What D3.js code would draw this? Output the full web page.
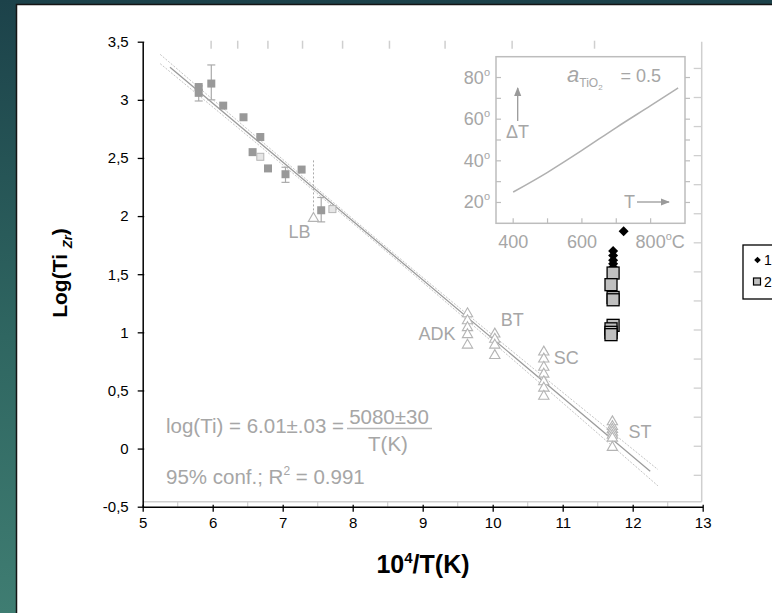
<!DOCTYPE html>
<html>
<head>
<meta charset="utf-8">
<script src="https://cdn.jsdelivr.net/npm/d3@7"></script>
<style>
  html, body { margin: 0; padding: 0; background: #fff; }
  svg { display: block; font-family: "Liberation Sans", Arial, sans-serif; }
</style>
</head>
<body>
<div id="chart"></div>
<script>
// ---- data ----
// reference calibration points (filled squares)
const refSqX = [5.80, 5.80, 5.98, 6.15, 6.44, 6.68, 6.57, 6.79, 7.04, 7.27, 7.55];
const refSqY = [3.11, 3.06, 3.14, 2.95, 2.85, 2.68, 2.55, 2.41, 2.36, 2.40, 2.05];
// open squares
const refOpenX = [6.68, 7.71];
const refOpenY = [2.51, 2.06];
// error bars
const errX = [5.80, 5.98, 7.04, 7.55];
const errLo = [2.99, 3.00, 2.29, 1.95];
const errHi = [3.12, 3.30, 2.42, 2.16];
// triangle groups
const triGroups = ["LB", "ADK", "BT", "SC", "ST"];
const triX = [7.44, 9.64, 10.03, 10.73, 11.71];
const triY = [
  [1.98],
  [1.16, 1.10, 1.04, 0.98, 0.89],
  [0.985, 0.94, 0.89, 0.80],
  [0.83, 0.77, 0.70, 0.64, 0.575, 0.52, 0.45],
  [0.23, 0.19, 0.165, 0.14, 0.115, 0.09, 0.01]
];
const lbRange = [1.98, 2.48];
// regression and 95% band
const fitIntercept = 6.01;
const fitSlope = -0.5065;
const fitRange = [5.39, 12.25];
const bandX = [5.25, 8.8, 12.36];
const bandOff = [0.04, 0.02, 0.07];
// series 1 (diamonds) and series 2 (squares)
const s1X = [11.87, 11.72, 11.72, 11.72, 11.72, 11.72];
const s1Y = [1.87, 1.70, 1.66, 1.62, 1.59, 1.56];
const s2X = [11.72, 11.69, 11.72, 11.72, 11.72, 11.69, 11.69, 11.69];
const s2Y = [1.51, 1.41, 1.30, 1.28, 1.06, 1.03, 1.00, 0.98];
// axes
const xTicks = [5, 6, 7, 8, 9, 10, 11, 12, 13];
const xMinor = [5.5, 6.5, 7.5, 8.5, 9.5, 10.5, 11.5, 12.5];
const yTicks = [-0.5, 0, 0.5, 1, 1.5, 2, 2.5, 3, 3.5];
const rightTicks = [3.27, 3.02, 2.77, 2.52, 2.27, 2.02, 1.77, 1.52, 1.27, 1.02, 0.77, 0.52, 0.27, 0.02, -0.23];
const topTempC = [1400, 1300, 1200, 1100, 1000, 900, 800, 700, 600];
// inset: delta T vs temperature
const insetT = [400, 500, 600, 700, 800, 880];
const insetDT = [25, 34.5, 45, 56, 66.5, 75];
const insetXTicks = [400, 500, 600, 700, 800];
const insetXLabels = [400, 600, 800];
const insetYTicks = [20, 30, 40, 50, 60, 70, 80];
const insetYLabels = [20, 40, 60, 80];

const width = 772, height = 613;
const gray = "#a6a6a6", lightGray = "#cfcfcf";

const svg = d3.select("#chart").append("svg")
  .attr("width", width).attr("height", height);

// background frame
const defs = svg.append("defs");
const grad = defs.append("linearGradient").attr("id", "bg")
  .attr("x1", 0).attr("y1", 0).attr("x2", 0).attr("y2", 1);
grad.append("stop").attr("offset", "0%").attr("stop-color", "#1c424a");
grad.append("stop").attr("offset", "55%").attr("stop-color", "#2f6661");
grad.append("stop").attr("offset", "100%").attr("stop-color", "#3f7d72");
svg.append("rect").attr("width", width).attr("height", height).attr("fill", "url(#bg)");
svg.append("rect").attr("x", 16.5).attr("y", 4.5).attr("width", width).attr("height", height)
  .attr("fill", "#fff").attr("stroke", "#151515").attr("stroke-width", 1.5);

const marker = defs.append("marker").attr("id", "arrow")
  .attr("viewBox", "0 0 10 10").attr("refX", 9).attr("refY", 5)
  .attr("markerWidth", 7).attr("markerHeight", 7).attr("orient", "auto");
marker.append("path").attr("d", "M0,1 L10,5 L0,9 Z").attr("fill", "#9a9a9a");

// scales
const x = d3.scaleLinear().domain([5, 13]).range([142.7, 702.7]);
const y = d3.scaleLinear().domain([-0.5, 3.5]).range([506.7, 41.7]);

// ---- original (gray) figure ----
const orig = svg.append("g");
// right frame and bottom frame line
orig.append("line").attr("x1", x(13) - 1).attr("x2", x(13) - 1)
  .attr("y1", y(3.5)).attr("y2", y(-0.5) - 5)
  .attr("stroke", lightGray).attr("stroke-width", 1.5);
orig.append("line").attr("x1", x(5)).attr("x2", x(13) - 1)
  .attr("y1", y(-0.5) - 5).attr("y2", y(-0.5) - 5)
  .attr("stroke", lightGray).attr("stroke-width", 1.5);
orig.selectAll("line.rt").data(rightTicks).enter().append("line")
  .attr("x1", x(13) - 9).attr("x2", x(13) - 1)
  .attr("y1", d => y(d)).attr("y2", d => y(d))
  .attr("stroke", lightGray).attr("stroke-width", 1.3);
orig.selectAll("line.tt").data(topTempC).enter().append("line")
  .attr("x1", d => x(1e4 / (d + 273))).attr("x2", d => x(1e4 / (d + 273)))
  .attr("y1", y(3.5) - 1).attr("y2", y(3.5) + 7)
  .attr("stroke", lightGray).attr("stroke-width", 1.5);
orig.selectAll("line.bm").data(xMinor).enter().append("line")
  .attr("x1", d => x(d)).attr("x2", d => x(d))
  .attr("y1", y(-0.5) - 5).attr("y2", y(-0.5))
  .attr("stroke", lightGray).attr("stroke-width", 1.2);

// regression line and confidence band
const fit = v => fitIntercept + fitSlope * v;
const line = d3.line().x(d => x(d[0])).y(d => y(d[1]));
const bandLine = d3.line().x(d => x(d[0])).y(d => y(d[1])).curve(d3.curveNatural);
[1, -1].forEach(sign => {
  orig.append("path")
    .attr("d", bandLine(bandX.map((v, i) => [v, fit(v) + sign * bandOff[i]])))
    .attr("fill", "none").attr("stroke", "#c4c4c4").attr("stroke-width", 1)
    .attr("stroke-dasharray", "2,1.5");
});
orig.append("path")
  .attr("d", line(fitRange.map(v => [v, fit(v)])))
  .attr("fill", "none").attr("stroke", "#9c9c9c").attr("stroke-width", 1.3);

// error bars
errX.forEach((v, i) => {
  const g = orig.append("g").attr("stroke", "#aaa").attr("stroke-width", 1.2);
  g.append("line").attr("x1", x(v)).attr("x2", x(v)).attr("y1", y(errLo[i])).attr("y2", y(errHi[i]));
  [errLo[i], errHi[i]].forEach(e => g.append("line")
    .attr("x1", x(v) - 4).attr("x2", x(v) + 4).attr("y1", y(e)).attr("y2", y(e)));
});
// LB dotted range
orig.append("line").attr("x1", x(triX[0])).attr("x2", x(triX[0]))
  .attr("y1", y(lbRange[0])).attr("y2", y(lbRange[1]))
  .attr("stroke", "#aaa").attr("stroke-width", 1).attr("stroke-dasharray", "2,2");

// squares
orig.selectAll("rect.sq").data(refSqX).enter().append("rect")
  .attr("x", (d) => x(d) - 4).attr("y", (d, i) => y(refSqY[i]) - 4)
  .attr("width", 8).attr("height", 8).attr("fill", "#999");
orig.selectAll("rect.osq").data(refOpenX).enter().append("rect")
  .attr("x", (d) => x(d) - 3.5).attr("y", (d, i) => y(refOpenY[i]) - 3.5)
  .attr("width", 7).attr("height", 7).attr("fill", "#e6e6e6")
  .attr("stroke", "#b5b5b5").attr("stroke-width", 1);

// triangles
const tri = d3.symbol(d3.symbolTriangle, 46);
triGroups.forEach((name, gi) => {
  orig.selectAll(null).data(triY[gi]).enter().append("path")
    .attr("d", tri)
    .attr("transform", d => `translate(${x(triX[gi])},${y(d)})`)
    .attr("fill", "#fff").attr("stroke", "#b4b4b4").attr("stroke-width", 1.1);
});
// group labels (offset from the triangle column's middle point)
const lblOffset = { LB: [-25, 20, "start"], ADK: [-12, 12, "end"], BT: [6, -19, "start"],
  SC: [10, -10, "start"], ST: [16, 6, "start"] };
triGroups.forEach((name, gi) => {
  const o = lblOffset[name];
  orig.append("text")
    .attr("x", x(triX[gi]) + o[0])
    .attr("y", y(triY[gi][Math.floor(triY[gi].length / 2)]) + o[1])
    .attr("text-anchor", o[2]).attr("font-size", 18).attr("fill", gray)
    .text(name);
});

// equation text
const eq = orig.append("g").attr("fill", gray).attr("font-size", 20.5);
eq.append("text").attr("x", 166).attr("y", 433).text("log(Ti) = 6.01\u00b1.03 =");
eq.append("text").attr("x", 389).attr("y", 424).attr("text-anchor", "middle").text("5080\u00b130");
eq.append("line").attr("x1", 347).attr("x2", 432).attr("y1", 428.5).attr("y2", 428.5)
  .attr("stroke", "#b8b8b8").attr("stroke-width", 1.6);
eq.append("text").attr("x", 388).attr("y", 451).attr("text-anchor", "middle").text("T(K)");
const r2 = eq.append("text").attr("x", 166).attr("y", 484);
r2.append("tspan").text("95% conf.;  R");
r2.append("tspan").attr("font-size", 12).attr("dy", -9).text("2");
r2.append("tspan").attr("dy", 9).text(" = 0.991");

// ---- inset ----
const ix = d3.scaleLinear().domain([350, 900]).range([496, 685]);
const iy = d3.scaleLinear().domain([10, 90]).range([223.3, 56.7]);
const inset = svg.append("g");
inset.append("rect").attr("x", ix(350)).attr("y", iy(90))
  .attr("width", ix(900) - ix(350)).attr("height", iy(10) - iy(90))
  .attr("fill", "#fff").attr("stroke", "#bdbdbd").attr("stroke-width", 1.5);
inset.selectAll("line.iyl").data(insetYTicks).enter().append("line")
  .attr("x1", ix(350)).attr("x2", ix(350) + 5).attr("y1", d => iy(d)).attr("y2", d => iy(d))
  .attr("stroke", "#bdbdbd").attr("stroke-width", 1.2);
inset.selectAll("line.iyr").data(insetYTicks).enter().append("line")
  .attr("x1", ix(900)).attr("x2", ix(900) + 5).attr("y1", d => iy(d)).attr("y2", d => iy(d))
  .attr("stroke", "#bdbdbd").attr("stroke-width", 1.2);
inset.selectAll("line.ixt").data(insetXTicks).enter().append("line")
  .attr("x1", d => ix(d)).attr("x2", d => ix(d)).attr("y1", iy(10)).attr("y2", iy(10) - 5)
  .attr("stroke", "#bdbdbd").attr("stroke-width", 1.2);
const ilab = inset.append("g").attr("fill", gray).attr("font-size", 18);
insetYLabels.forEach(d => {
  const t = ilab.append("text").attr("x", ix(350) - 6).attr("y", iy(d) + 6).attr("text-anchor", "end");
  t.append("tspan").text(d);
  t.append("tspan").attr("font-size", 11).attr("dy", -8).text("o");
});
insetXLabels.forEach(d => {
  ilab.append("text").attr("x", ix(d)).attr("y", 248).attr("text-anchor", "middle").text(d);
});
const degC = ilab.append("text").attr("x", ix(800) + 15).attr("y", 248);
degC.append("tspan").attr("font-size", 11).attr("dy", -8).text("o");
degC.append("tspan").attr("dy", 8).text("C");
inset.append("path")
  .attr("d", d3.line().x((d, i) => ix(insetT[i])).y(d => iy(d)).curve(d3.curveMonotoneX)(insetDT))
  .attr("fill", "none").attr("stroke", "#b0b0b0").attr("stroke-width", 1.5);
// arrows and symbols
inset.append("line").attr("x1", 517.7).attr("x2", 517.7).attr("y1", 121).attr("y2", 88)
  .attr("stroke", "#9a9a9a").attr("stroke-width", 1.3).attr("marker-end", "url(#arrow)");
ilab.append("text").attr("x", 506).attr("y", 138).text("\u0394T");
ilab.append("text").attr("x", 624).attr("y", 208).text("T");
inset.append("line").attr("x1", 637).attr("x2", 669).attr("y1", 202).attr("y2", 202)
  .attr("stroke", "#9a9a9a").attr("stroke-width", 1.3).attr("marker-end", "url(#arrow)");
const act = ilab.append("text").attr("x", 567).attr("y", 82);
act.append("tspan").attr("font-style", "italic").attr("font-size", 22).text("a");
act.append("tspan").attr("font-size", 12).attr("dy", 5).text("TiO");
act.append("tspan").attr("font-size", 8).attr("dy", 3).text("2");
act.append("tspan").attr("font-size", 18).attr("dy", -8).attr("dx", 18).text("= 0.5");

// ---- black Excel axes ----
const fmt = v => String(v).replace(".", ",");
const xAxis = svg.append("g").attr("transform", `translate(0,${y(-0.5)})`)
  .call(d3.axisBottom(x).tickValues(xTicks).tickSize(5).tickSizeOuter(0).tickPadding(6).tickFormat(d3.format("d")));
const yAxis = svg.append("g").attr("transform", `translate(${x(5)},0)`)
  .call(d3.axisLeft(y).tickValues(yTicks).tickSize(5).tickSizeOuter(0).tickPadding(9).tickFormat(fmt));
[xAxis, yAxis].forEach(a => {
  a.select(".domain").attr("stroke", "#000").attr("stroke-width", 1.5);
  a.selectAll(".tick line").attr("stroke", "#000").attr("stroke-width", 1.3);
  a.selectAll(".tick text").attr("fill", "#000").attr("font-size", 15)
    .attr("font-family", "Liberation Sans, Arial, sans-serif");
});
xAxis.selectAll(".tick line").attr("y1", -2);
yAxis.selectAll(".tick line").attr("x1", 1.5);

// axis titles
svg.append("text").attr("x", 423).attr("y", 573).attr("text-anchor", "middle")
  .attr("font-size", 25).attr("font-weight", "bold").attr("fill", "#000")
  .call(t => {
    t.append("tspan").text("10");
    t.append("tspan").attr("font-size", 15).attr("dy", -10).text("4");
    t.append("tspan").attr("dy", 10).text("/T(K)");
  });
svg.append("text").attr("transform", "translate(66.5,273) rotate(-90)").attr("text-anchor", "middle")
  .attr("font-size", 21).attr("font-weight", "bold").attr("fill", "#000")
  .call(t => {
    t.append("tspan").text("Log(Ti ");
    t.append("tspan").attr("font-size", 13).attr("font-style", "italic").attr("dy", 5).text("Zr");
    t.append("tspan").attr("dy", -5).text(")");
  });

// ---- series ----
const diamond = d3.symbol(d3.symbolSquare, 50);
svg.selectAll("path.s1").data(s1X).enter().append("path")
  .attr("d", diamond)
  .attr("transform", (d, i) => `translate(${x(d)},${y(s1Y[i])}) rotate(45)`)
  .attr("fill", "#000");
svg.selectAll("rect.s2").data(s2X).enter().append("rect")
  .attr("x", d => x(d) - 6).attr("y", (d, i) => y(s2Y[i]) - 6)
  .attr("width", 12).attr("height", 12)
  .attr("fill", "#c0c0c0").attr("stroke", "#000").attr("stroke-width", 1.3);

// legend
const leg = svg.append("g").attr("transform", "translate(743,245)");
leg.append("rect").attr("width", 60).attr("height", 54)
  .attr("fill", "#fff").attr("stroke", "#000").attr("stroke-width", 1.3);
leg.append("path").attr("d", d3.symbol(d3.symbolSquare, 22))
  .attr("transform", "translate(14.5,15) rotate(45)").attr("fill", "#000");
leg.append("rect").attr("x", 10.5).attr("y", 33).attr("width", 7).attr("height", 7)
  .attr("fill", "#c0c0c0").attr("stroke", "#000").attr("stroke-width", 1.2);
leg.append("text").attr("x", 21).attr("y", 20).attr("font-size", 14).text("1");
leg.append("text").attr("x", 21).attr("y", 42).attr("font-size", 14).text("2");
</script>
</body>
</html>
